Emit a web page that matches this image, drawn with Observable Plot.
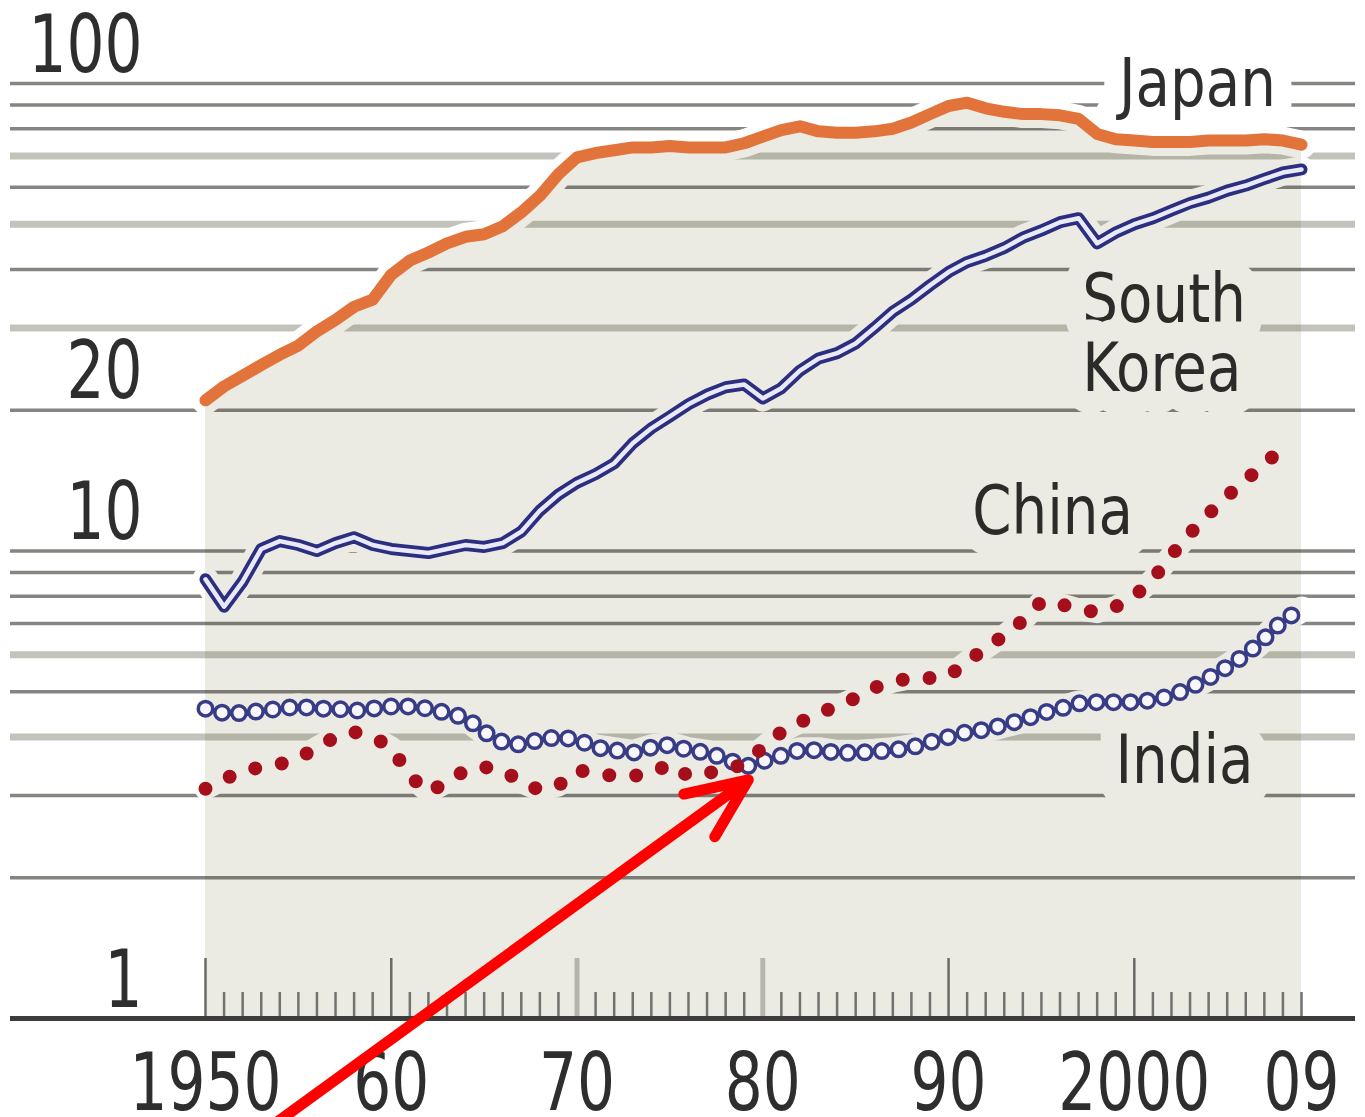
<!DOCTYPE html>
<html>
<head>
<meta charset="utf-8">
<script src="https://cdn.jsdelivr.net/npm/d3@7"></script>
<script src="https://cdn.jsdelivr.net/npm/@observablehq/plot@0.6"></script>
<style>
  html, body { margin: 0; padding: 0; background: #fff; }
  #chart svg { display: block; }
  #chart svg text { font-stretch: condensed; }
</style>
</head>
<body>
<div id="chart"></div>
<script>
// ---- Data ----
const years = [
  1950,1951,1952,1953,1954,1955,1956,1957,1958,1959,
  1960,1961,1962,1963,1964,1965,1966,1967,1968,1969,
  1970,1971,1972,1973,1974,1975,1976,1977,1978,1979,
  1980,1981,1982,1983,1984,1985,1986,1987,1988,1989,
  1990,1991,1992,1993,1994,1995,1996,1997,1998,1999,
  2000,2001,2002,2003,2004,2005,2006,2007,2008,2009
];
const japan = [
  21,22.5,23.7,25,26.3,27.5,29.5,31.2,33.3,34.5,
  39,41.8,43.5,45.5,47,47.6,49.5,53,57.5,64,
  69.5,71,72,73,73,73.5,73,73,73,74.5,
  77,79.5,81,79,78.5,78.5,79,80,82.5,86,
  89.5,91,88.5,87,86,86,85.5,84,78,76,
  75.5,75,75,75,75.5,75.5,75.5,76,75.5,74
];
const southKorea = [
  8.7,7.6,8.6,10.1,10.5,10.3,10.0,10.4,10.7,10.3,
  10.1,10.0,9.9,10.1,10.3,10.2,10.4,11.0,12.2,13.2,
  14.0,14.6,15.4,17.0,18.3,19.4,20.6,21.6,22.4,22.7,
  21.2,22.3,24.3,25.8,26.5,27.8,30.0,32.5,34.5,37.0,
  39.5,41.5,42.8,44.5,46.8,48.5,50.5,51.5,45.5,48.0,
  50.0,51.5,53.5,55.5,57.0,59.0,60.5,62.5,64.5,65.5
];
const china = [
  3.1,3.25,3.38,3.45,3.5,3.6,3.8,4.0,4.1,4.0,
  3.8,3.3,3.05,3.2,3.4,3.45,3.4,3.2,3.08,3.15,
  3.4,3.35,3.3,3.3,3.35,3.5,3.3,3.35,3.4,3.5,
  3.8,4.1,4.3,4.5,4.65,4.85,5.1,5.25,5.35,5.35,
  5.4,5.8,6.2,6.6,7.1,7.8,7.7,7.5,7.4,7.6,
  8.0,8.7,9.8,10.9,12.0,13.1,14.2,15.3,16.7,null
];
const india = [
  4.6,4.5,4.5,4.55,4.6,4.65,4.6,4.6,4.55,4.6,
  4.65,4.65,4.6,4.5,4.4,4.1,3.9,3.85,3.95,4.0,
  3.95,3.8,3.75,3.7,3.8,3.85,3.75,3.7,3.6,3.45,
  3.55,3.65,3.75,3.75,3.7,3.7,3.72,3.75,3.8,3.9,
  4.0,4.1,4.15,4.25,4.35,4.5,4.6,4.72,4.75,4.75,
  4.75,4.8,4.9,5.1,5.35,5.65,6.0,6.5,7.1,7.5
];

// Grid values (log axis) and tick labels
const gridDark = [2, 3, 5, 7, 8, 9, 10, 20, 40, 60, 80, 90, 100];
const gridLight = [4, 6, 30, 50, 70];
const yTickValues = [1, 10, 20, 100];
const yTickLabels = ["1", "10", "20", "100"];
const xTickYears = [1950, 1960, 1970, 1980, 1990, 2000, 2009];
const xTickLabels = ["1950", "60", "70", "80", "90", "2000", "09"];
const decadesDark = [1950, 1960, 1990, 2000];
const decadesLight = [1970, 1980];

// Series labels (anchor point in data space)
const labelsCentered = [
  {name: "Japan", year: 2003.4, value: 89.7},
  {name: "China", year: 1995.6, value: 10.85},
  {name: "India", year: 2002.7, value: 3.19}
];
const labelsLeft = [
  {name: "South\nKorea", year: 1997.2, value: 22.0}
];

// Annotation arrow (data space)
const arrowData = [{x1: 1952.85, y1: 0.5615, x2: 1979.22, y2: 3.24}];

// ---- Build table ----
const rows = years.map((yr, i) => ({
  year: yr, japan: japan[i], southKorea: southKorea[i], china: china[i], india: india[i]
}));
const yLabelRows = yTickValues.map((v, i) => ({v, label: yTickLabels[i]}));
const xLabelRows = xTickYears.map((yr, i) => ({year: yr, label: xTickLabels[i]}));

const BEIGE = "#ecebe3";
const FONT = "'DejaVu Sans Condensed','DejaVu Sans',sans-serif";
const TEXT = "#2e2e2e";
const frameH = 1018 - 83;
const halo = {stroke: "white", strokeLinejoin: "round", strokeLinecap: "round"};
const labelStyle = {fontSize: 68, fill: TEXT, stroke: "white", strokeWidth: 44, strokeLinejoin: "round", fontFamily: FONT, lineAnchor: "bottom", lineHeight: 1.02};

const chart = Plot.plot({
  width: 1365,
  height: 1117,
  marginTop: 83,
  marginBottom: 99,
  marginLeft: 205,
  marginRight: 64,
  style: {background: "white", fontFamily: FONT},
  x: {domain: [1950, 2009], axis: null},
  y: {type: "log", domain: [1, 100], axis: null},
  marks: [
    // gridlines
    Plot.ruleY(gridLight, {stroke: "#c3c3bc", strokeWidth: 7, insetLeft: -195, insetRight: -54}),
    Plot.ruleY(gridDark, {stroke: "#858581", strokeWidth: 3.5, insetLeft: -195, insetRight: -54}),
    // white knock-outs (turned beige by the multiplied panel where inside it)
    Plot.line(rows, {x: "year", y: "japan", strokeWidth: 28, ...halo}),
    Plot.line(rows, {x: "year", y: "southKorea", strokeWidth: 26, ...halo}),
    Plot.line(rows, {x: "year", y: "india", strokeWidth: 26, ...halo}),
    Plot.line(rows, {x: "year", y: "china", strokeWidth: 22, ...halo}),
    Plot.text(labelsCentered, {x: "year", y: "value", text: "name", textAnchor: "middle", ...labelStyle}),
    Plot.text(labelsLeft, {x: "year", y: "value", text: "name", textAnchor: "start", ...labelStyle}),
    // beige panel under Japan's curve
    Plot.areaY(rows, {x: "year", y1: 1, y2: "japan", fill: BEIGE, mixBlendMode: "multiply"}),
    // year ticks
    Plot.ruleX(years.filter(y => y % 10 !== 0), {x: d => d, stroke: "#727270", strokeWidth: 2.5, insetTop: frameH - 26}),
    Plot.ruleX(decadesDark, {x: d => d, stroke: "#6a6a68", strokeWidth: 2.5, insetTop: frameH - 60}),
    Plot.ruleX(decadesLight, {x: d => d, stroke: "#b5b5ae", strokeWidth: 5, insetTop: frameH - 60}),
    // baseline
    Plot.ruleY([1], {stroke: "#3c3c3a", strokeWidth: 5, insetLeft: -195, insetRight: -54}),
    // Japan
    Plot.line(rows, {x: "year", y: "japan", stroke: "#e2743b", strokeWidth: 12, strokeLinejoin: "round", strokeLinecap: "round"}),
    // South Korea (double line)
    Plot.line(rows, {x: "year", y: "southKorea", stroke: "#2c2e80", strokeWidth: 12, strokeLinejoin: "round", strokeLinecap: "round"}),
    Plot.line(rows, {x: "year", y: "southKorea", stroke: "#e9e9f7", strokeWidth: 4.5, strokeLinejoin: "round", strokeLinecap: "round"}),
    // India (chain of open circles)
    Plot.line(rows, {x: "year", y: "india", stroke: "#383b86", strokeWidth: 18, strokeDasharray: "0 17", strokeLinecap: "round", strokeLinejoin: "round"}),
    Plot.line(rows, {x: "year", y: "india", stroke: "#f7f7fb", strokeWidth: 11, strokeDasharray: "0 17", strokeLinecap: "round", strokeLinejoin: "round"}),
    // China (dotted)
    Plot.line(rows, {x: "year", y: "china", stroke: "#a50f1c", strokeWidth: 14, strokeDasharray: "0 27", strokeLinecap: "round", strokeLinejoin: "round"}),
    // tick labels
    Plot.text(yLabelRows, {y: "v", text: "label", frameAnchor: "left", dx: -63, dy: -12, textAnchor: "end", lineAnchor: "bottom", fontSize: 80, fill: TEXT, fontFamily: FONT}),
    Plot.text(xLabelRows, {x: "year", text: "label", frameAnchor: "bottom", dy: 91, lineAnchor: "bottom", fontSize: 80, fill: TEXT, fontFamily: FONT}),
    // red annotation arrow
    Plot.arrow(arrowData, {x1: "x1", y1: "y1", x2: "x2", y2: "y2", stroke: "#fe0000", strokeWidth: 11, headLength: 9, headAngle: 47, strokeLinecap: "round", strokeLinejoin: "round"})
  ]
});

// Narrow the lettering (the original uses a condensed face): scale each text about its own anchor.
chart.querySelectorAll("text").forEach(t => {
  const s = /^\d+$/.test(t.textContent.trim()) ? 0.83 : 0.92;
  const tr = t.getAttribute("transform");
  if (tr) t.setAttribute("transform", tr + ` scale(${s},1)`);
});
document.getElementById("chart").appendChild(chart);
</script>
</body>
</html>
